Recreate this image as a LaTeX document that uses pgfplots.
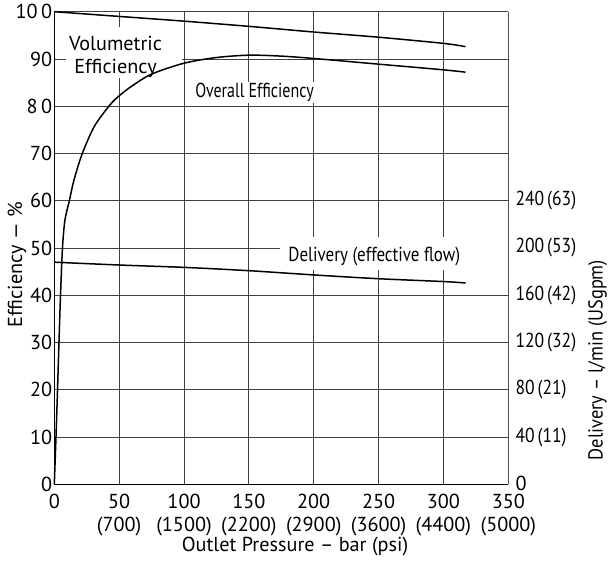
\documentclass[border=0pt]{standalone}
\usepackage{fontspec}
\setmainfont{PT Sans}
\usepackage{graphicx}
\usepackage{pgfplots}
\pgfplotsset{compat=1.18}

\newcommand{\nr}[1]{\scalebox{0.87}[1]{#1}}

\begin{document}
\begin{tikzpicture}[font=\fontsize{20.3}{23}\selectfont]
\useasboundingbox (-54.3bp,-76.7bp) rectangle (554.7bp,484.3bp);

\begin{axis}[
    at={(0,0)}, anchor=south west,
    scale only axis,
    width=454bp, height=472.6bp,
    xmin=0, xmax=350, ymin=0, ymax=100,
    xtick={0,50,...,350},
    xticklabels={0,{50\\(700)},{100\\(1500)},{150\\(2200)},{200\\(2900)},{250\\(3600)},{300\\(4400)},{350\\(5000)}},
    xticklabel style={align=center, inner sep=1bp, yshift=-8.5bp},
    ytick={0,10,...,100},
    yticklabels={0,10,20,30,40,50,60,70,8\,0,90,10\,0},
    yticklabel style={inner sep=1bp, xshift=-1bp},
    axis y line*=left, axis x line*=bottom,
    grid=major,
    major grid style={black!75, line width=0.8bp},
    major tick length=0pt,
    axis line style={black, line width=0.9bp},
    clip=false,
]

% white boxes behind the labels
\fill[white] (axis cs:9.3,96.8) rectangle (axis cs:98.5,86.0);
\fill[white] (axis cs:174,52.3) rectangle (axis cs:350,45.3);
\node[align=center] at (axis cs:47.2,90.5) {Volumetric\\Efficiency};
\node[fill=white, inner sep=1.5bp] at (axis cs:154.4,82.9) {\scalebox{0.79}[1]{Overall Efficiency}};
\node at (axis cs:246.7,48.3) {\scalebox{0.84}[1]{Delivery (effective flow)}};

% volumetric efficiency
\addplot[black, line width=1.5bp, smooth] coordinates {
    (0,100) (50,99.0) (100,98.0) (150,96.9) (200,95.7) (250,94.6) (300,93.3) (317,92.6)
};
% overall efficiency
\addplot[black, line width=1.5bp, smooth, tension=0.5] coordinates {
    (0,0) (1.3,10) (2.5,20) (3.6,30) (4.8,40) (6.3,50) (8.2,55.9) (11.6,60)
    (15.2,64.4) (21.6,70) (31,75.8) (43,80.3) (50,82.2) (60,84.3) (75,86.8)
    (100,89.1) (125,90.3) (150,90.8) (175,90.6) (200,90.1) (250,88.9) (300,87.7) (317,87.2)
};
% delivery
\addplot[black, line width=1.5bp, smooth] coordinates {
    (0,47.0) (50,46.4) (100,45.9) (150,45.2) (200,44.3) (250,43.5) (300,42.9) (317,42.6)
};
\end{axis}

\begin{axis}[
    at={(0,0)}, anchor=south west,
    scale only axis,
    width=454bp, height=472.6bp,
    xmin=0, xmax=350, ymin=0, ymax=100,
    axis x line=none,
    axis y line*=right,
    ytick={0,10,...,60},
    yticklabels={\raisebox{2.5bp}{0},\nr{40\,(11)},\nr{80\,(21)},\nr{120\,(32)},\nr{160\,(42)},\nr{200\,(53)},\nr{240\,(63)}},
    yticklabel style={inner sep=1bp, xshift=6bp},
    major tick length=0pt,
    axis line style={black!70, line width=0.9bp},
]
\addplot[draw=none] coordinates {(0,0)};
\end{axis}

\node[rotate=90] at (-37.3bp,219.3bp) {Efficiency — \%};
\node[rotate=90] at (543.4bp,124.3bp) {\scalebox{0.91}[1]{Delivery – l/min (USgpm)}};
\node at (240.7bp,-62.7bp) {Outlet Pressure – bar (psi)};
\end{tikzpicture}
\end{document}
